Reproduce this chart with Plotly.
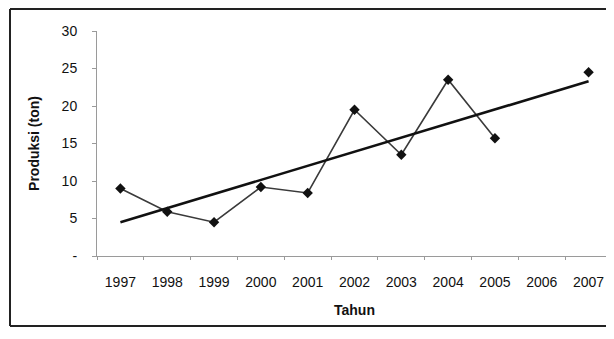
import plotly.graph_objects as go

years = ["1997", "1998", "1999", "2000", "2001", "2002", "2003", "2004", "2005", "2006", "2007"]
produksi = [9.0, 5.9, 4.5, 9.2, 8.4, 19.5, 13.5, 23.5, 15.7, None, 24.5]
trend_years = ["1997", "2007"]
trend_values = [4.5, 23.3]
y_tickvals = [0, 5, 10, 15, 20, 25, 30]
y_ticktext = ["-", "5", "10", "15", "20", "25", "30"]

font_family = "Liberation Sans, Arial, sans-serif"

# figure is placed by the page with an 8px body margin
W, H = 606, 319
L, R, T, B = 89, 2, 23, 71
PW, PH = W - L - R, H - T - B

fig = go.Figure()
fig.add_trace(go.Scatter(
    x=years, y=produksi, mode="lines+markers",
    line=dict(color="#3a3a3a", width=1.6),
    marker=dict(symbol="diamond", size=8, color="#111111"),
    connectgaps=False, showlegend=False, cliponaxis=False,
))
fig.add_trace(go.Scatter(
    x=trend_years, y=trend_values, mode="lines",
    line=dict(color="#111111", width=2.6),
    showlegend=False,
))

frame_left = (2 - L) / PW
frame_right = (W - L) / PW
frame_top = 1 + (T - 1) / PH
frame_bottom = -(B - 1) / PH
frame_line = dict(color="#222222", width=2)

fig.update_layout(
    width=W, height=H,
    margin=dict(l=L, r=R, t=T, b=B, autoexpand=False),
    paper_bgcolor="white", plot_bgcolor="white",
    font=dict(family=font_family, size=14, color="#111111"),
    xaxis=dict(
        type="category", categoryorder="array", categoryarray=years,
        range=[-0.5, len(years) - 0.5],
        automargin=False,
        showline=True, linecolor="#9a9a9a", linewidth=1,
        ticks="outside", tickson="boundaries", ticklen=3, tickcolor="#9a9a9a",
        ticklabelstandoff=13,
        showgrid=False, zeroline=False,
        tickfont=dict(size=14, color="#111111"),
        title=dict(text="<b>Tahun</b>", font=dict(size=14), standoff=16),
    ),
    yaxis=dict(
        range=[0, 30], tickvals=y_tickvals, ticktext=y_ticktext,
        automargin=False,
        showline=True, linecolor="#9a9a9a", linewidth=1,
        ticks="outside", ticklen=4, tickcolor="#9a9a9a",
        ticklabelstandoff=12,
        showgrid=False, zeroline=False,
        tickfont=dict(size=14, color="#111111"),
        title=dict(text="<b>Produksi (ton)</b>", font=dict(size=14), standoff=18),
    ),
    shapes=[
        dict(type="line", xref="paper", yref="paper", x0=frame_left, x1=frame_left,
             y0=frame_bottom, y1=frame_top, line=frame_line, layer="below"),
        dict(type="line", xref="paper", yref="paper", x0=frame_left, x1=frame_right,
             y0=frame_top, y1=frame_top, line=frame_line, layer="below"),
        dict(type="line", xref="paper", yref="paper", x0=frame_left, x1=frame_right,
             y0=frame_bottom, y1=frame_bottom, line=frame_line, layer="below"),
    ],
)

fig.write_html("out.html")
